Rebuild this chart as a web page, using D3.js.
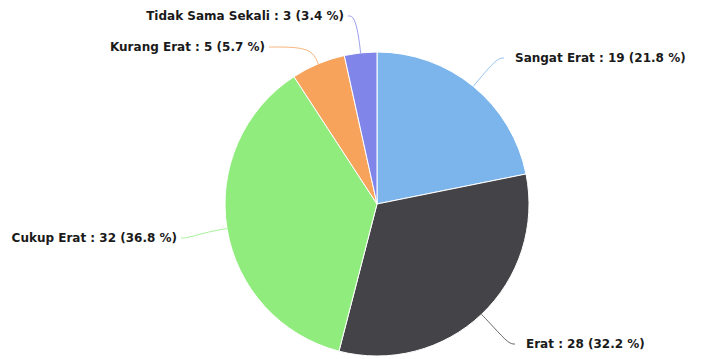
<!DOCTYPE html>
<html><head><meta charset="utf-8">
<script src="https://cdn.jsdelivr.net/npm/d3@7"></script>
<style>
html,body{margin:0;padding:0;background:#fff;}
svg{display:block;}
text{font-family:"DejaVu Sans",Verdana,sans-serif;font-weight:bold;font-size:12px;fill:#1a1a1a;}
</style></head>
<body>
<svg id="chart" width="716" height="359"></svg>
<script>
const categories = ["Sangat Erat","Erat","Cukup Erat","Kurang Erat","Tidak Sama Sekali"];
const values = [19, 28, 32, 5, 3];
const colors = ["#7cb5ec","#434348","#90ed7d","#f7a35c","#8085e9"];

// label layout (anchor point where the connector meets the text)
const labelLayout = [
  {x: 504, y: 58, side: 1},
  {x: 515, y: 344, side: 1},
  {x: 181, y: 238, side: -1},
  {x: 269, y: 47, side: -1},
  {x: 348, y: 16, side: -1}
];

const W = 716, H = 359, cx = 377, cy = 204, r = 152;
const svg = d3.select("#chart");
const total = d3.sum(values);
const data = categories.map((c,i)=>({name:c, value:values[i], color:colors[i], i}));

const pie = d3.pie().value(d=>d.value).sort(null).startAngle(0).endAngle(2*Math.PI);
const arcs = pie(data);
const arc = d3.arc().innerRadius(0).outerRadius(r);

const g = svg.append("g").attr("transform",`translate(${cx},${cy})`);
g.selectAll("path.slice").data(arcs).join("path")
  .attr("class","slice")
  .attr("d",arc)
  .attr("fill",d=>d.data.color)
  .attr("stroke","#fff").attr("stroke-width",1).attr("stroke-linejoin","round");

// connectors
const line = d3.line().curve(d3.curveBasis);
arcs.forEach((a,k)=>{
  const mid = (a.startAngle+a.endAngle)/2;
  const ex = cx + r*Math.sin(mid), ey = cy - r*Math.cos(mid);
  const L = labelLayout[k];
  const bx = cx + (r+18)*Math.sin(mid), by = cy - (r+18)*Math.cos(mid);
  const pts = [[L.x, L.y],[L.x + (L.side>0?-6:6), L.y],[bx,by],[ex,ey]];
  svg.append("path")
    .attr("d", line(pts))
    .attr("fill","none")
    .attr("stroke", a.data.color)
    .attr("stroke-opacity",0.8)
    .attr("stroke-width",1);
});

// labels
arcs.forEach((a,k)=>{
  const L = labelLayout[k];
  const pct = (a.data.value/total*100).toFixed(1);
  svg.append("text")
    .attr("x", L.x + (L.side>0?11:-4))
    .attr("y", L.y)
    .attr("dy","0.35em")
    .attr("text-anchor", L.side>0?"start":"end")
    .attr("stroke","#fff").attr("stroke-width",2).attr("paint-order","stroke").attr("stroke-linejoin","round")
    .text(`${a.data.name} : ${a.data.value} (${pct} %)`);
});
</script>
</body></html>
